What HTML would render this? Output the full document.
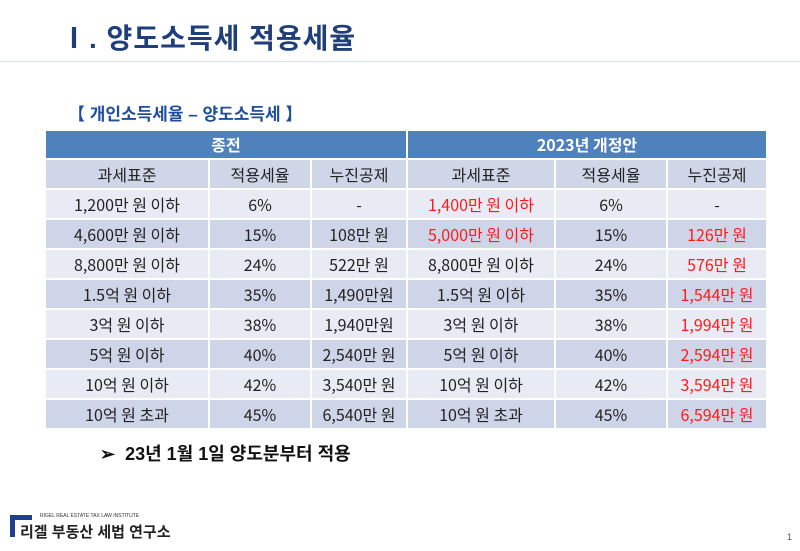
<!DOCTYPE html>
<html><head><meta charset="utf-8">
<style>
body{margin:0;width:800px;height:551px;background:#fff;overflow:hidden;position:relative;font-family:"Liberation Sans","Noto Sans CJK KR",sans-serif;}
.title{position:absolute;left:60px;top:17px;font-size:28px;font-weight:bold;color:#1f3f7a;letter-spacing:1px;}
.rule{position:absolute;left:0;top:61px;width:800px;height:1px;background:#d6dfee;}
.sub{position:absolute;left:68px;top:100px;font-size:17px;font-weight:bold;color:#1f4e9c;}
table{position:absolute;left:44px;top:129px;border-collapse:collapse;font-size:16px;color:#222;table-layout:fixed;}
td{border:2px solid #fff;text-align:center;padding:0;height:28px;line-height:28px;vertical-align:middle;font-family:"Noto Sans CJK KR","Liberation Sans",sans-serif;}
.h td{background:#4f81bd;color:#fff;font-weight:bold;height:27px;line-height:27px;}
.sh td{background:#cfd6e8;height:28px;}
.a td{background:#e9ebf4;}
.b td{background:#cfd5e9;}
.r{color:#ff1a1a;}
.note{position:absolute;left:100px;top:440px;font-size:18px;font-weight:bold;color:#111;}
.logo{position:absolute;left:8px;top:513px;}
.pg{position:absolute;right:8px;top:532px;font-size:9px;color:#555;}
</style></head><body>
<div class="title">Ⅰ. 양도소득세 적용세율</div>
<div class="rule"></div>
<div class="sub">【 개인소득세율 – 양도소득세 】</div>
<table>
<colgroup><col style="width:164px"><col style="width:102px"><col style="width:96px"><col style="width:148px"><col style="width:112px"><col style="width:100px"></colgroup>
<tr class="h"><td colspan="3">종전</td><td colspan="3">2023년 개정안</td></tr>
<tr class="sh"><td>과세표준</td><td>적용세율</td><td>누진공제</td><td>과세표준</td><td>적용세율</td><td>누진공제</td></tr>
<tr class="a"><td>1,200만 원 이하</td><td>6%</td><td>-</td><td class="r">1,400만 원 이하</td><td>6%</td><td>-</td></tr>
<tr class="b"><td>4,600만 원 이하</td><td>15%</td><td>108만 원</td><td class="r">5,000만 원 이하</td><td>15%</td><td class="r">126만 원</td></tr>
<tr class="a"><td>8,800만 원 이하</td><td>24%</td><td>522만 원</td><td>8,800만 원 이하</td><td>24%</td><td class="r">576만 원</td></tr>
<tr class="b"><td>1.5억 원 이하</td><td>35%</td><td>1,490만원</td><td>1.5억 원 이하</td><td>35%</td><td class="r">1,544만 원</td></tr>
<tr class="a"><td>3억 원 이하</td><td>38%</td><td>1,940만원</td><td>3억 원 이하</td><td>38%</td><td class="r">1,994만 원</td></tr>
<tr class="b"><td>5억 원 이하</td><td>40%</td><td>2,540만 원</td><td>5억 원 이하</td><td>40%</td><td class="r">2,594만 원</td></tr>
<tr class="a"><td>10억 원 이하</td><td>42%</td><td>3,540만 원</td><td>10억 원 이하</td><td>42%</td><td class="r">3,594만 원</td></tr>
<tr class="b"><td>10억 원 초과</td><td>45%</td><td>6,540만 원</td><td>10억 원 초과</td><td>45%</td><td class="r">6,594만 원</td></tr>
</table>
<div class="note">➢&nbsp; 23년 1월 1일 양도분부터 적용</div>
<div class="logo">
<div style="position:absolute;left:2px;top:2px;width:22px;height:22px;border-left:5px solid #1f3f8a;border-top:5px solid #1f3f8a;box-sizing:border-box;"></div>
<div style="position:absolute;left:32px;top:0;font-size:5px;color:#333;white-space:nowrap;">RIGEL REAL ESTATE TAX LAW INSTITUTE</div>
<div style="position:absolute;left:12px;top:8px;font-size:15px;font-weight:bold;color:#222;white-space:nowrap;">리겔 부동산 세법 연구소</div>
</div>
<div class="pg">1</div>
</body></html>
